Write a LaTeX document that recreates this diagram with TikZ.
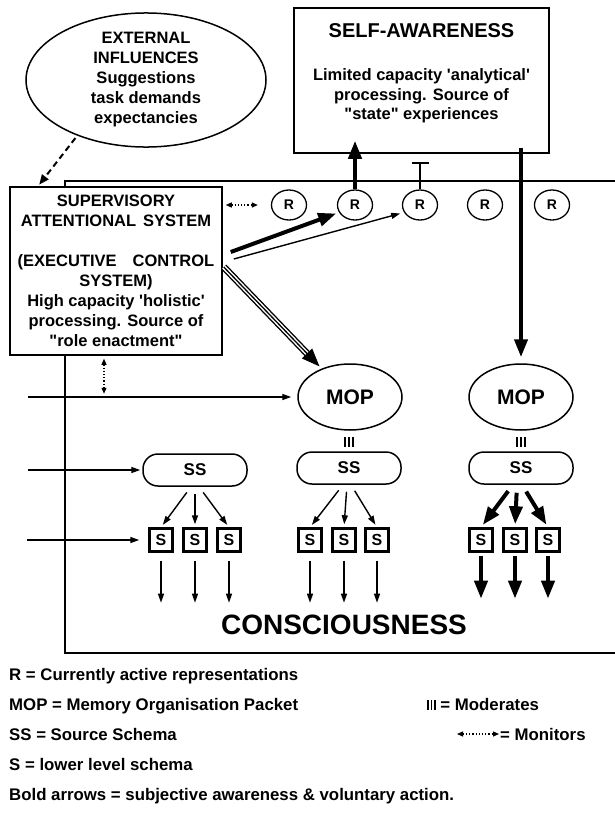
\documentclass[tikz,border=0pt]{standalone}
\usepackage{fontspec}
\setmainfont{Liberation Sans}
\usetikzlibrary{arrows.meta,shapes.geometric,calc}
\newcommand\myfs[2]{\fontsize{#1}{#2}\selectfont\bfseries}
\newcommand\sqt{\textquotesingle}
\newcommand\dqt{\textquotedbl}
\newcommand\modsym[2]{\rule{#1}{#2}\hspace{1.6pt}\rule{#1}{#2}\hspace{1.6pt}\rule{#1}{#2}}
\begin{document}
\begin{tikzpicture}[x=1pt,y=-1pt,
  box/.style={draw,line width=1.5pt,fill=white,inner sep=0pt},
  rnode/.style={ellipse,draw,line width=1.3pt,minimum width=35pt,minimum height=30pt,inner sep=0pt,font=\myfs{14}{14}},
  mopnode/.style={ellipse,draw,line width=1.5pt,minimum width=104pt,minimum height=66pt,inner sep=0pt,font=\myfs{21}{21}},
  ssnode/.style={rectangle,rounded corners=15pt,draw,line width=1.5pt,minimum width=104pt,minimum height=32pt,inner sep=0pt,font=\myfs{17}{17}},
  snode/.style={rectangle,draw,line width=2.4pt,minimum size=23pt,inner sep=0pt,font=\myfs{16}{16}},
  thinarr/.style={line width=1.4pt,-{Triangle[length=9pt,width=6pt]}},
  boldarr/.style={line width=4pt,-{Triangle[length=18pt,width=13pt]}},
  monarr/.style={line width=1.2pt,dotted,{Triangle[length=6pt,width=5pt]}-{Triangle[length=6pt,width=5pt]}},
  legend/.style={anchor=base west,inner sep=0pt,font=\myfs{16.8}{20}}]
\useasboundingbox (0,0) rectangle (615,814);

% frame
\draw[line width=1.8pt] (615,181) -- (65,181) -- (65,653) -- (615,653);

% external influences
\node[ellipse,draw,line width=1.5pt,minimum width=240pt,minimum height=134pt,inner sep=0pt,align=center,font=\myfs{16.5}{20}] (ext) at (146,80)
  {EXTERNAL\\INFLUENCES\\Suggestions\\task demands\\expectancies};

% self-awareness
\node[box,minimum width=255pt,minimum height=145pt] (self) at (421.5,80.5) {};
\node[font=\myfs{20}{24}] (selft) at (421.5,31) {SELF-AWARENESS};
\node[font=\myfs{16.5}{19.5},align=center] (selfb) at (421.5,96)
  {Limited capacity \sqt analytical\sqt\\processing. Source of\\\dqt state\dqt\ experiences};

% supervisory attentional system
\node[box,minimum width=212pt,minimum height=168pt,align=center,font=\myfs{16.5}{20}] (sas) at (116,271)
  {SUPERVISORY\\ATTENTIONAL\hspace{7pt}SYSTEM\\[20pt](EXECUTIVE\hspace{16pt}CONTROL\\SYSTEM)\\High capacity \sqt holistic\sqt\\processing. Source of\\\dqt role enactment\dqt};

% R nodes
\foreach \i/\x in {1/289,2/355,3/420,4/485,5/552}
  \node[rnode] (r\i) at (\x,205) {R};

% MOP
\node[mopnode] (mop1) at (350,397) {MOP};
\node[mopnode] (mop2) at (521,397) {MOP};

% moderates
\node[inner sep=0pt] (md1) at (349,442) {\modsym{2.4pt}{10pt}};
\node[inner sep=0pt] (md2) at (521,442) {\modsym{2.4pt}{10pt}};

% SS
\node[ssnode] (ss1) at (195,470) {SS};
\node[ssnode] (ss2) at (349,468) {SS};
\node[ssnode] (ss3) at (521,468) {SS};

% S boxes
\foreach \n/\x in {11/161,12/195,13/229,21/310,22/344,23/377,31/481,32/515,33/548}
  \node[snode] (s\n) at (\x,540) {S};

% consciousness
\node[font=\myfs{28}{30}] (cons) at (344,625) {CONSCIOUSNESS};

% dashed arrow ext -> sas
\coordinate (sastop) at ([xshift=-78pt]sas.north);
\draw[line width=2pt,dash pattern=on 6pt off 4pt,-{Triangle[length=10pt,width=8pt]},shorten <=3pt,shorten >=2pt] (ext.219) -- (sastop);

% monitors
\draw[monarr,shorten <=3pt,shorten >=13pt] (sas.east |- r1) -- (r1.west);
\coordinate (sasb) at ([xshift=-12pt]sas.south);
\draw[monarr,shorten <=3pt,shorten >=6pt] (sasb) -- ++(0,44);

% SAS -> R2 (bold), SAS -> R3 (thin)
\coordinate (sa1) at ([xshift=8pt,yshift=19pt]sas.east);
\coordinate (sa2) at ([xshift=11pt,yshift=12pt]sas.east);
\draw[boldarr,shorten >=3pt] (sa1) -- (r2.205);
\draw[thinarr,shorten >=4pt] (sa2) -- (r3.205);

% SAS -> MOP1 triple arrow
\coordinate (sa3) at ([xshift=1pt,yshift=4pt]sas.east);
\draw[line width=7pt,shorten >=17pt] (sa3) -- (mop1.135);
\draw[white,line width=4.2pt,shorten >=17pt] (sa3) -- (mop1.135);
\draw[line width=1.3pt,-{Triangle[length=18pt,width=14pt]},shorten >=3pt] (sa3) -- (mop1.135);

% R2 -> self
\coordinate (sbu) at ([yshift=13pt]self.south);
\draw[boldarr] (r2.north) -- (r2.north |- sbu);
% R3 inhibited
\draw[line width=1.5pt,-{Bar[width=17pt,line width=1.8pt]}] (r3.north) -- ++(0,-27);
% self -> MOP2
\coordinate (sbd) at ([yshift=6pt]self.south);
\draw[boldarr,shorten >=6pt] (mop2.north |- sbd) -- (mop2.north);

% inputs
\coordinate (in1) at (28,397);
\coordinate (in2) at (28,470);
\coordinate (in3) at (27,540);
\draw[thinarr,shorten >=6pt] (in1) -- (mop1.west);
\draw[thinarr,shorten >=2pt] (in2) -- (ss1.west);
\draw[thinarr,shorten >=9pt] (in3) -- (s11.west);

% SS -> S
\draw[thinarr,shorten <=7pt,shorten >=3pt] ([xshift=-4pt]ss1.south) -- (s11.north);
\draw[thinarr,shorten <=7pt,shorten >=3pt] (ss1.south) -- (s12.north);
\draw[thinarr,shorten <=7pt,shorten >=3pt] ([xshift=4pt]ss1.south) -- (s13.north);
\draw[thinarr,shorten <=7pt,shorten >=3pt] ([xshift=-6pt]ss2.south) -- (s21.north);
\draw[thinarr,shorten <=7pt,shorten >=3pt] ([xshift=-2pt]ss2.south) -- (s22.north);
\draw[thinarr,shorten <=7pt,shorten >=3pt] ([xshift=2pt]ss2.south) -- (s23.north);
\draw[boldarr,shorten <=8pt,shorten >=3pt] ([xshift=-8pt]ss3.south) -- (s31.north);
\draw[boldarr,shorten <=8pt,shorten >=3pt] ([xshift=-4pt]ss3.south) -- (s32.north);
\draw[boldarr,shorten <=8pt,shorten >=3pt] ([xshift=1pt]ss3.south) -- (s33.north);

% S -> down
\foreach \n in {11,12,13,21,22,23}
  \draw[thinarr,shorten <=8pt] (s\n.south) -- ++(0,50);
\foreach \n in {31,32,33}
  \draw[boldarr,shorten <=3pt] (s\n.south) -- ++(0,46);

% legend
\node[legend] (l1) at (9,680) {R = Currently active representations};
\node[legend] (l2) at (9,710) {MOP = Memory Organisation Packet};
\node[legend] (l3) at (9,740) {SS = Source Schema};
\node[legend] (l4) at (9,770) {S = lower level schema};
\node[legend] (l5) at (9,800) {Bold arrows = subjective awareness \& voluntary action.};
\node[legend] (l6) at (427,710) {\modsym{1.8pt}{10pt} = Moderates};
\coordinate (m1) at (457,734);
\coordinate (m2) at (499,734);
\draw[monarr] (m1) -- (m2);
\node[legend] (l7) at (500,740) {= Monitors};
\end{tikzpicture}
\end{document}
